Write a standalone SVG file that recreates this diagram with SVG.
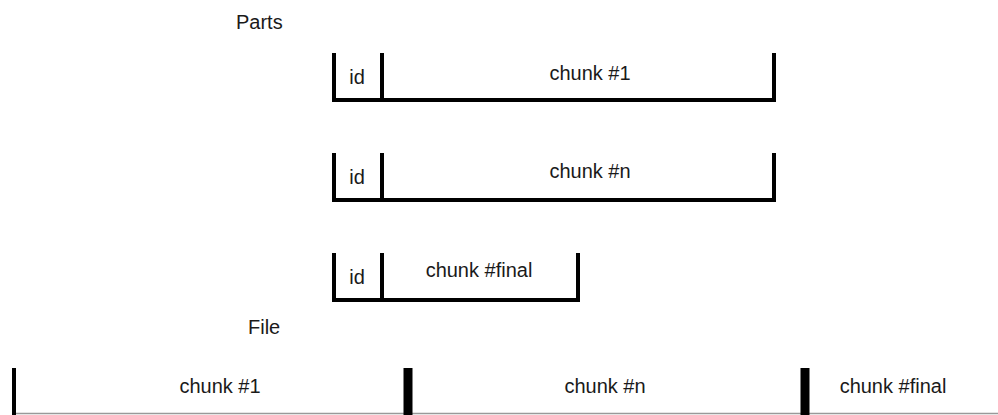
<svg xmlns="http://www.w3.org/2000/svg" width="998" height="415" viewBox="0 0 998 415">
  <style>
    text { font-family: "Liberation Sans", Arial, sans-serif; font-size: 20px; fill: #1a1a1a; }
    .mid { text-anchor: middle; }
    .bracket { fill: none; stroke: #000; stroke-width: 4; stroke-linejoin: miter; }
    .sep { stroke: #000; stroke-width: 4; }
    .bar { stroke: #000; stroke-width: 9; }
    .base { stroke: #999; stroke-width: 1.5; }
  </style>

  <text x="236" y="29">Parts</text>
  <text x="248" y="334">File</text>

  <!-- part #1 -->
  <g id="part-1">
    <path class="bracket" d="M334,53 V100 H774 V53"/>
    <line class="sep" x1="382" y1="53" x2="382" y2="100"/>
    <text class="mid" x="357" y="84">id</text>
    <text class="mid" x="590" y="80">chunk #1</text>
  </g>

  <!-- part #n -->
  <g id="part-n">
    <path class="bracket" d="M334,153 V200 H774 V153"/>
    <line class="sep" x1="382" y1="153" x2="382" y2="200"/>
    <text class="mid" x="357" y="184">id</text>
    <text class="mid" x="590" y="178">chunk #n</text>
  </g>

  <!-- final part -->
  <g id="part-final">
    <path class="bracket" d="M334,253 V300 H578 V253"/>
    <line class="sep" x1="382" y1="253" x2="382" y2="300"/>
    <text class="mid" x="357" y="284">id</text>
    <text class="mid" x="479" y="277">chunk #final</text>
  </g>

  <!-- assembled file -->
  <g id="file">
    <line class="base" x1="12" y1="413.5" x2="998" y2="413.5"/>
    <line x1="14" y1="368" x2="14" y2="415" stroke="#000" stroke-width="4"/>
    <line class="bar" x1="408" y1="368" x2="408" y2="415"/>
    <line class="bar" x1="805" y1="368" x2="805" y2="415"/>
    <text class="mid" x="220" y="393">chunk #1</text>
    <text class="mid" x="605" y="393">chunk #n</text>
    <text class="mid" x="893" y="393">chunk #final</text>
  </g>
</svg>
